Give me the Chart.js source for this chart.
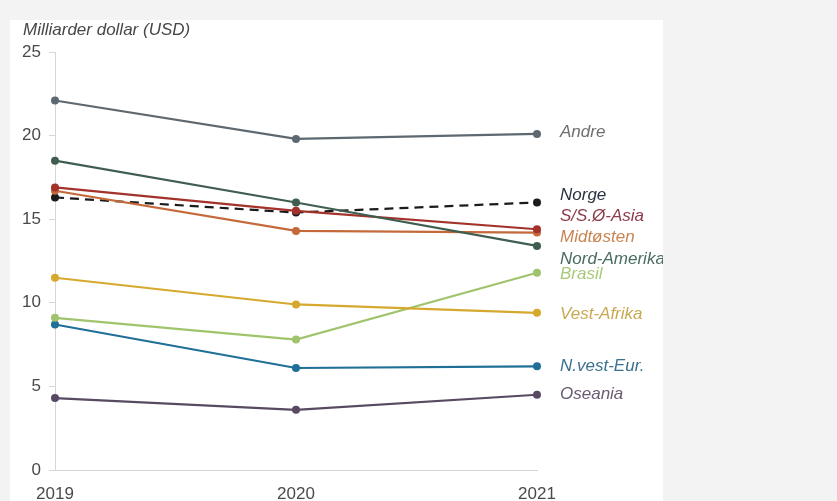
<!DOCTYPE html>
<html>
<head>
<meta charset="utf-8">
<script src="https://cdn.jsdelivr.net/npm/chart.js@4/dist/chart.umd.min.js"></script>
<style>
  html, body { margin: 0; padding: 0; background: #f3f3f3; }
  #panel { position: absolute; left: 10px; top: 20px; width: 653px; height: 481px; background: #ffffff; overflow: hidden; }
</style>
</head>
<body>
<div id="panel"><canvas id="myChart" width="653" height="481"></canvas></div>
<script>
// years on the x axis
const years = ['2019', '2020', '2021'];

// values, billion USD
const andre = [22.1, 19.8, 20.1];
const nordAmerika = [18.5, 16.0, 13.4];
const ssoAsia = [16.9, 15.5, 14.4];
const midtosten = [16.7, 14.3, 14.2];
const norge = [16.3, 15.4, 16.0];
const vestAfrika = [11.5, 9.9, 9.4];
const brasil = [9.1, 7.8, 11.8];
const nvestEur = [8.7, 6.1, 6.2];
const oseania = [4.3, 3.6, 4.5];

const seriesNames = ['Andre', 'Nord-Amerika', 'S/S.Ø-Asia', 'Midtøsten', 'Norge', 'Vest-Afrika', 'Brasil', 'N.vest-Eur.', 'Oseania'];
const seriesData = [andre, nordAmerika, ssoAsia, midtosten, norge, vestAfrika, brasil, nvestEur, oseania];
const lineColors = ['#5d6870', '#3f5e50', '#a3322b', '#c4693a', '#1b1b1b', '#d6a92e', '#9fc46c', '#1f6f96', '#574a62'];
const labelColors = ['#6e6e6e', '#4a6b62', '#8c3a48', '#c98452', '#2a3440', '#c9a852', '#a9c97a', '#3a7190', '#6a5a72'];
// where the end labels sit (in axis units)
const labelPos = [20.2, 12.6, 15.2, 13.9, 16.45, 9.3, 11.7, 6.2, 4.5];

const fontFamily = '"Liberation Sans", Arial, sans-serif';

const datasets = seriesData.map(function (vals, i) {
  return {
    label: seriesNames[i],
    data: vals,
    borderColor: lineColors[i],
    backgroundColor: lineColors[i],
    borderWidth: 2.2,
    borderDash: seriesNames[i] === 'Norge' ? [9, 6] : [],
    pointRadius: 4,
    pointHoverRadius: 4,
    pointBorderWidth: 0,
    tension: 0
  };
});

const endLabels = {
  id: 'endLabels',
  afterDatasetsDraw(chart) {
    const ctx = chart.ctx;
    const yScale = chart.scales.y;
    ctx.save();
    ctx.font = 'italic 17px ' + fontFamily;
    ctx.textBaseline = 'middle';
    ctx.textAlign = 'left';
    seriesNames.forEach(function (name, i) {
      ctx.fillStyle = labelColors[i];
      ctx.fillText(name, chart.chartArea.right + 23, yScale.getPixelForValue(labelPos[i]));
    });
    // axis title at top left
    ctx.fillStyle = '#474747';
    ctx.fillText('Milliarder dollar (USD)', 13, 10);
    ctx.restore();
  }
};

new Chart(document.getElementById('myChart').getContext('2d'), {
  type: 'line',
  data: { labels: years, datasets: datasets },
  options: {
    responsive: false,
    animation: false,
    layout: { padding: { top: 32, right: 126, left: 0, bottom: 0 } },
    plugins: { legend: { display: false }, tooltip: { enabled: false } },
    scales: {
      x: {
        offset: false,
        grid: { display: false },
        border: { color: '#d6d6d6', width: 1 },
        ticks: { color: '#4a4a4a', font: { family: fontFamily, size: 17 }, padding: 6, maxRotation: 0 },
        afterFit(scale) { scale.height = 31; }
      },
      y: {
        min: 0,
        max: 25,
        grid: { drawOnChartArea: false, drawTicks: true, tickLength: 6, color: '#d6d6d6' },
        border: { color: '#d6d6d6', width: 1 },
        ticks: { stepSize: 5, color: '#4a4a4a', font: { family: fontFamily, size: 17 }, padding: 8 },
        afterFit(scale) { scale.width = 45; }
      }
    }
  },
  plugins: [endLabels]
});
</script>
</body>
</html>
